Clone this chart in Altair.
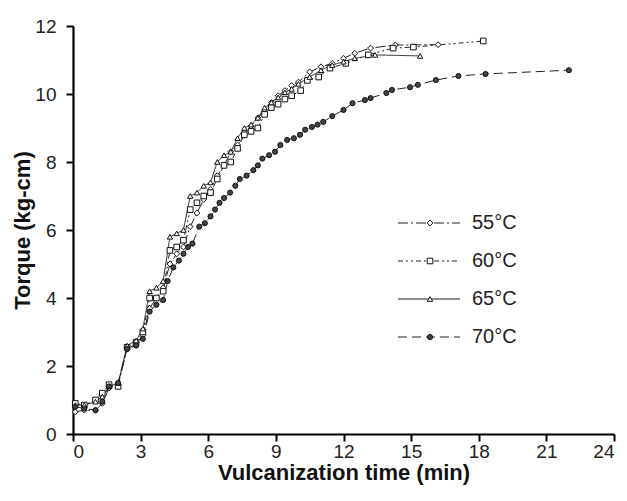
import altair as alt
import pandas as pd

series_names = ["55°C", "60°C", "65°C", "70°C"]

t55 = [0.1, 0.5, 1.0, 1.3, 1.6, 2.0, 2.4, 2.8, 3.1, 3.4, 3.7, 4.0, 4.3, 4.6, 4.9, 5.2, 5.5, 5.8, 6.1, 6.4,
       6.7, 7.0, 7.3, 7.6, 7.9, 8.2, 8.5, 8.8, 9.1, 9.4, 9.7, 10.0, 10.5, 11.0, 11.5, 12.0, 12.5, 13.2, 14.3, 16.2]
v55 = [0.65, 0.7, 0.7, 0.9, 1.35, 1.45, 2.5, 2.65, 2.9, 3.7, 4.0, 4.3, 5.0, 5.3, 5.5, 6.1, 6.5, 6.9, 7.2, 7.6,
       7.9, 8.3, 8.5, 8.8, 9.05, 9.3, 9.5, 9.75, 9.95, 10.1, 10.25, 10.35, 10.65, 10.8, 10.9, 11.05, 11.2, 11.35, 11.44, 11.45]

t60 = [0.1, 0.5, 1.0, 1.3, 1.6, 2.0, 2.4, 2.8, 3.1, 3.4, 3.7, 4.0, 4.3, 4.6, 4.9, 5.2, 5.5, 5.8, 6.1, 6.4,
       6.7, 7.0, 7.3, 7.6, 7.9, 8.2, 8.5, 8.8, 9.1, 9.4, 9.7, 10.1, 10.4, 10.9, 11.4, 12.1, 13.1, 14.2, 15.1, 18.2]
v60 = [0.9, 0.85, 1.0, 1.2, 1.45, 1.4, 2.55, 2.7, 3.0, 4.0, 4.0, 4.2, 5.4, 5.5, 5.7, 6.6, 6.8, 7.0, 7.1, 7.5,
       7.9, 8.0, 8.4, 8.8, 8.9, 9.0, 9.4, 9.6, 9.7, 9.85, 9.95, 10.1, 10.4, 10.5, 10.76, 10.9, 11.15, 11.35, 11.38, 11.56]

t65 = [0.1, 0.5, 1.0, 1.3, 1.6, 2.0, 2.4, 2.8, 3.1, 3.4, 3.7, 4.0, 4.3, 4.6, 4.9, 5.2, 5.5, 5.8, 6.1, 6.4,
       6.7, 7.0, 7.3, 7.6, 7.9, 8.2, 8.5, 8.8, 9.1, 9.4, 9.7, 10.0, 10.5, 11.0, 11.5, 12.0, 12.5, 13.4, 15.4]
v65 = [0.85, 0.85, 0.95, 1.1, 1.4, 1.5, 2.6, 2.75, 3.1, 4.2, 4.3, 4.5, 5.8, 5.9, 6.0, 7.0, 7.1, 7.3, 7.4, 8.0,
       8.2, 8.3, 8.7, 9.0, 9.1, 9.3, 9.6, 9.75, 9.9, 10.05, 10.15, 10.3, 10.5, 10.7, 10.85, 10.95, 11.05, 11.15, 11.12]

t70 = [0.1, 0.5, 1.0, 1.3, 1.6, 2.0, 2.4, 2.8, 3.1, 3.4, 3.7, 4.0, 4.2, 4.45, 4.7, 4.9, 5.1, 5.3, 5.6, 5.85,
       6.1, 6.3, 6.5, 6.7, 6.97, 7.2, 7.4, 7.7, 8.0, 8.2, 8.4, 8.7, 8.96, 9.2, 9.5, 9.8, 10.07, 10.3, 10.6, 10.85,
       11.1, 11.5, 12.0, 12.4, 12.95, 13.2, 13.9, 14.15, 14.95, 15.3, 16.1, 17.1, 18.3, 22.0]
v70 = [0.8, 0.75, 0.7, 0.95, 1.4, 1.5, 2.5, 2.6, 2.8, 3.6, 3.8, 3.94, 4.5, 4.9, 5.1, 5.3, 5.5, 5.6, 6.1, 6.2,
       6.4, 6.6, 6.8, 6.94, 7.1, 7.3, 7.5, 7.6, 7.76, 7.9, 8.1, 8.2, 8.3, 8.5, 8.65, 8.7, 8.8, 8.95, 9.03, 9.1,
       9.18, 9.35, 9.53, 9.73, 9.82, 9.88, 10.03, 10.12, 10.2, 10.27, 10.41, 10.53, 10.59, 10.7]

x_ticks = [0, 3, 6, 9, 12, 15, 18, 21, 24]
y_ticks = [0, 2, 4, 6, 8, 10, 12]

rows = []
for name, ts, vs in zip(series_names, [t55, t60, t65, t70], [v55, v60, v65, v70]):
    for t, v in zip(ts, vs):
        rows.append({"time": t, "torque": v, "series": name})
df = pd.DataFrame(rows)
legend_df = pd.DataFrame({"series": series_names})

dash_range = [[10, 3, 2, 3], [5, 3, 2, 3, 2, 3], [1, 0], [9, 5]]
shape_range = ["diamond", "square", "triangle-up", "circle"]
fill_range = ["white", "white", "white", "#444444"]
size_range = [34, 26, 30, 22]

dash_enc = alt.StrokeDash("series:N", scale=alt.Scale(domain=series_names, range=dash_range), legend=None)
shape_enc = alt.Shape("series:N", scale=alt.Scale(domain=series_names, range=shape_range), legend=None)
fill_enc = alt.Fill("series:N", scale=alt.Scale(domain=series_names, range=fill_range), legend=None)
size_enc = alt.Size("series:N", scale=alt.Scale(domain=series_names, range=size_range), legend=None)

x_enc = alt.X("time:Q", scale=alt.Scale(domain=[0, 24], nice=False),
              axis=alt.Axis(values=x_ticks, title="Vulcanization time (min)", titlePadding=1, labelPadding=1))
y_enc = alt.Y("torque:Q", scale=alt.Scale(domain=[0, 12], nice=False),
              axis=alt.Axis(values=y_ticks, title="Torque (kg-cm)", titlePadding=0, labelPadding=10))

lines = alt.Chart(df).mark_line(color="#222222", strokeWidth=1).encode(
    x=x_enc, y=y_enc, strokeDash=dash_enc, detail="series:N",
)
points = alt.Chart(df).mark_point(filled=False, stroke="#111111", strokeWidth=1, opacity=1).encode(
    x=x_enc, y=y_enc, shape=shape_enc, fill=fill_enc, size=size_enc,
)
data_layer = alt.layer(lines, points)

ly = alt.Y("series:N", scale=alt.Scale(type="point", domain=series_names, range=[197, 311], padding=0),
           axis=None)
leg_lines = alt.Chart(legend_df).mark_rule(color="#222222", strokeWidth=1.2).encode(
    x=alt.value(325), x2=alt.value(387), y=ly, strokeDash=dash_enc,
)
leg_points = alt.Chart(legend_df).mark_point(filled=False, stroke="#111111", strokeWidth=1, opacity=1).encode(
    x=alt.value(357), y=ly, shape=shape_enc, fill=fill_enc, size=size_enc,
)
leg_text = alt.Chart(legend_df).mark_text(align="left", baseline="middle", font="Liberation Sans",
                                          fontSize=20, color="#222222").encode(
    x=alt.value(399), y=ly, text="series:N",
)
legend_layer = alt.layer(leg_lines, leg_points, leg_text)

chart = alt.layer(data_layer, legend_layer).resolve_scale(y="independent").properties(
    width=541, height=408,
    autosize=alt.AutoSizeParams(type="none"),
    padding={"left": 65, "top": 18, "right": 5, "bottom": 58},
).configure_view(stroke=None).configure_axis(
    grid=False, domainColor="black", domainWidth=2.2, tickColor="black", tickWidth=2, tickSize=7,
    labelFont="Liberation Sans", labelFontSize=19, labelColor="#222222",
    titleFont="Liberation Sans", titleFontSize=22, titleFontWeight="bold", titleColor="#111111",
)

chart.save("out.html", embed_options={"renderer": "svg", "actions": False})
